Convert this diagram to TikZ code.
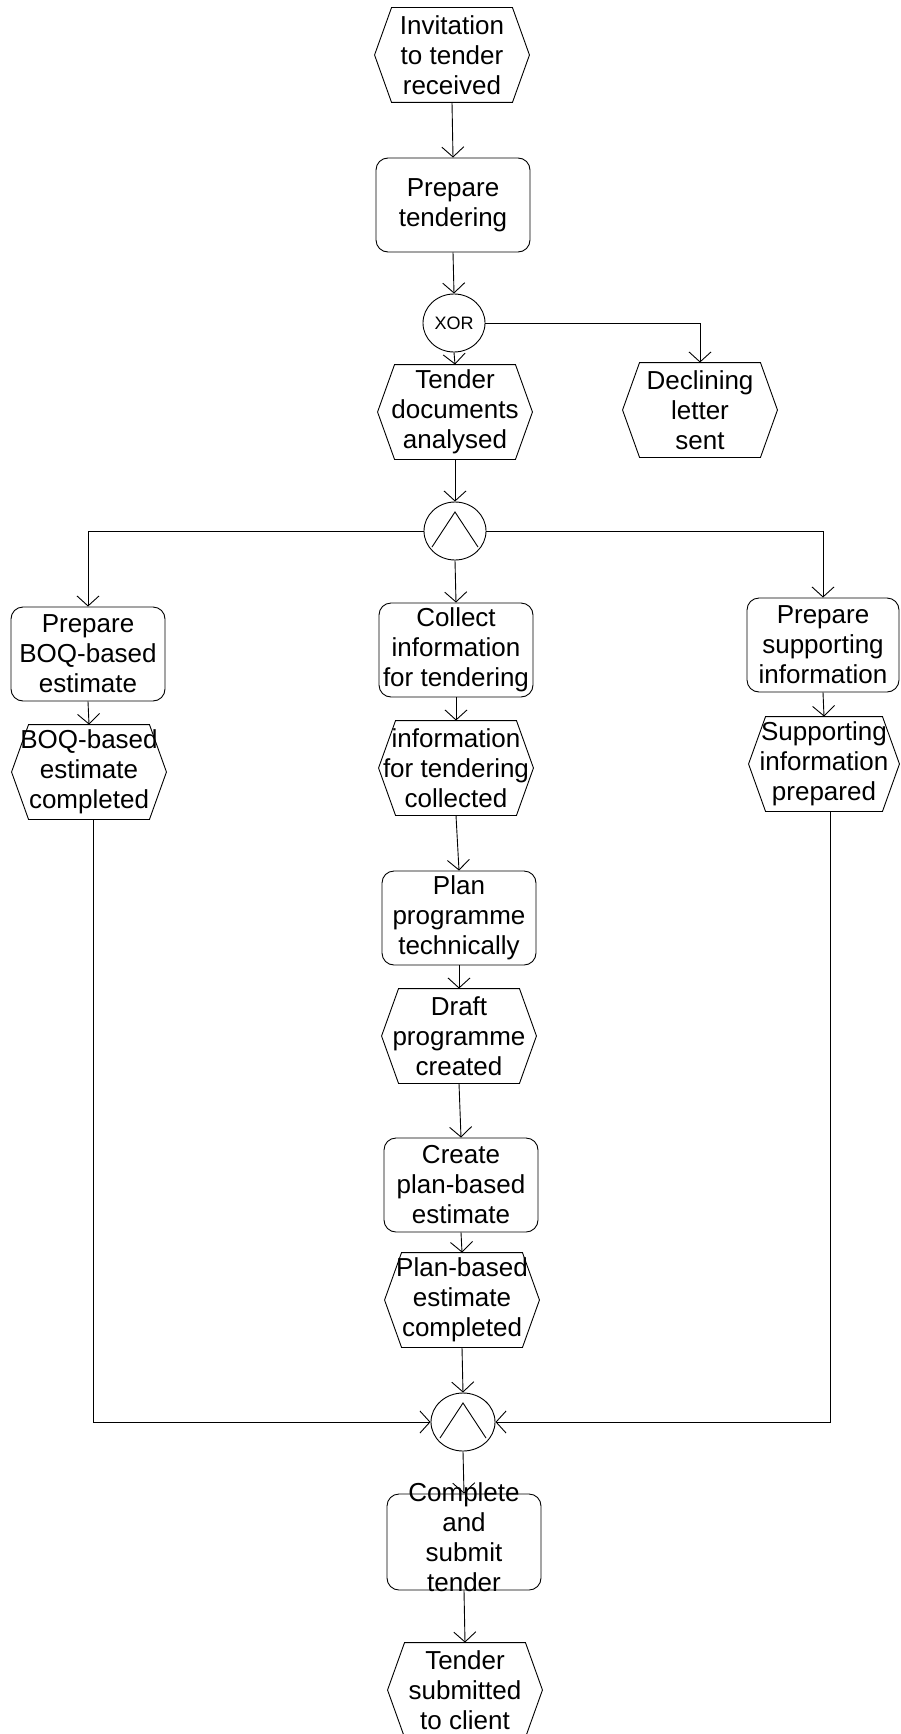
\documentclass[tikz,border=0pt]{standalone}
\usepackage{fontspec}
\setmainfont{Liberation Sans}
\usetikzlibrary{arrows.meta,shapes.geometric}

\begin{document}
\begin{tikzpicture}[x=1pt,y=-1pt,
  line width=0.9pt,
  lbl/.style={font=\fontsize{26}{30}\selectfont},
  func/.style={draw, rounded corners=12pt, inner sep=0pt,
    minimum width=154pt, minimum height=94pt, align=center, lbl},
  event/.style={inner sep=0pt, minimum width=154pt, minimum height=94pt,
    align=center, lbl},
  gate/.style={draw, ellipse, inner sep=0pt, minimum width=62pt, minimum height=58pt},
  flow/.style={-{Straight Barb[length=10pt,width=22pt]}},
  ]
\useasboundingbox (0,0) rectangle (901,1734);

% events (hexagon outlines are drawn below) and functions
\node[event] (e1) at (452,55) {Invitation\\to tender\\received};
\node[func]  (f1) at (453,205) {Prepare\\tendering};
\node[gate, font=\fontsize{18}{20}\selectfont] (xor) at (454,323) {XOR};
\node[event] (e2) at (455,412) {Tender\\documents\\analysed};
\node[event] (e3) at (700,410) {Declining\\letter\\sent};
\node[gate]  (and1) at (455,531) {};

\node[func]  (fL) at (88,654)  {Prepare\\BOQ-based\\estimate};
\node[func]  (fM) at (456,650) {Collect\\information\\for tendering};
\node[func, minimum width=152pt]  (fR) at (823,645) {Prepare\\supporting\\information};

\node[event] (eL) at (89,772)  {BOQ-based\\estimate\\completed};
\node[event] (eM) at (456,768) {information\\for tendering\\collected};
\node[event, minimum width=150pt] (eR) at (824,764) {Supporting\\information\\prepared};

\node[func]  (f4) at (459,918)  {Plan\\programme\\technically};
\node[event] (e4) at (459,1036) {Draft\\programme\\created};
\node[func]  (f5) at (461,1185) {Create\\plan-based\\estimate};
\node[event] (e5) at (462,1300) {Plan-based\\estimate\\completed};

\node[gate, minimum width=64pt] (and2) at (463,1422) {};

\node[func, minimum height=96pt] (f6) at (464,1542) {};
\node[lbl, align=center, inner sep=0pt] (f6text) at ([yshift=5pt]f6.center)
  {Complete\\and\\submit\\tender};
\node[event] (e6) at (465,1690) {Tender\\submitted\\to client};

% hexagon outlines of the events
\foreach \n in {e1,e2,e3,eL,eM,eR,e4,e5,e6}
  \draw ([xshift=17pt]\n.north west) -- ([xshift=-17pt]\n.north east)
     -- (\n.east) -- ([xshift=-17pt]\n.south east)
     -- ([xshift=17pt]\n.south west) -- (\n.west) -- cycle;

% AND symbols inside the join/split gates
\foreach \g in {and1,and2}
  \draw ([shift={(-23,16)}]\g.center) -- ([shift={(0,-19)}]\g.center)
     -- ([shift={(23,16)}]\g.center);

% control flow
\draw[flow] (e1.south) -- (f1.north);
\draw[flow] (f1.south) -- (xor.north);
\draw[flow] (xor.south) -- (e2.north);
\draw[flow] (xor.east) -| (e3.north);
\draw[flow] (e2.south) -- (and1.north);
\draw[flow] (and1.west) -| (fL.north);
\draw[flow] (and1.south) -- (fM.north);
\draw[flow] (and1.east) -| (fR.north);
\draw[flow] (fL.south) -- (eL.north);
\draw[flow] (fM.south) -- (eM.north);
\draw[flow] (fR.south) -- (eR.north);
\draw[flow] (eM.south) -- (f4.north);
\draw[flow] (f4.south) -- (e4.north);
\draw[flow] (e4.south) -- (f5.north);
\draw[flow] (f5.south) -- (e5.north);
\draw[flow] (e5.south) -- (and2.north);
\draw[flow] ([xshift=4pt]eL.south) |- (and2.west);
\draw[flow] ([xshift=6pt]eR.south) |- (and2.east);
\draw[flow] (and2.south) -- (f6.north);
\draw[flow] (f6.south) -- (e6.north);
\end{tikzpicture}
\end{document}
